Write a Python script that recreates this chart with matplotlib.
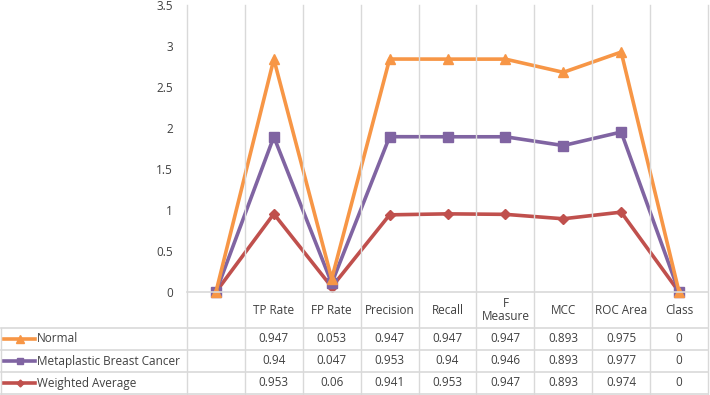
import numpy as np
import matplotlib.pyplot as plt
from matplotlib.lines import Line2D

plt.rcParams['font.family'] = ['Open Sans', 'DejaVu Sans']

# data (the chart stacks the three series)
categories = ['', 'TP Rate', 'FP Rate', 'Precision', 'Recall', 'F\nMeasure', 'MCC', 'ROC Area', 'Class']
series_names = ['Normal', 'Metaplastic Breast Cancer', 'Weighted Average']
normal = [0, 0.947, 0.053, 0.947, 0.947, 0.947, 0.893, 0.975, 0]
metaplastic = [0, 0.94, 0.047, 0.953, 0.94, 0.946, 0.893, 0.977, 0]
weighted = [0, 0.953, 0.06, 0.941, 0.953, 0.947, 0.893, 0.974, 0]
table_text = [
    ['', '0.947', '0.053', '0.947', '0.947', '0.947', '0.893', '0.975', '0'],
    ['', '0.94', '0.047', '0.953', '0.94', '0.946', '0.893', '0.977', '0'],
    ['', '0.953', '0.06', '0.941', '0.953', '0.947', '0.893', '0.974', '0'],
]

colors = ['#F79646', '#8064A2', '#C0504D']
markers = ['^', 's', 'D']
msizes = [7, 6.5, 5]
txt_col = '#404040'
grid_col = '#D9D9D9'
fs = 8.5

W, H = 710, 395
fig = plt.figure(figsize=(W / 100, H / 100), dpi=100)
ax_l, ax_r, ax_t, ax_b = 187, 708, 5, 292
ax = fig.add_axes([ax_l / W, 1 - ax_b / H, (ax_r - ax_l) / W, (ax_b - ax_t) / H])

x = np.arange(len(categories))
w_arr = np.array(weighted)
m_arr = w_arr + np.array(metaplastic)
n_arr = m_arr + np.array(normal)
stacks = [n_arr, m_arr, w_arr]

for i in [2, 1, 0]:
    ax.plot(x, stacks[i], color=colors[i], lw=2.6, marker=markers[i],
            markersize=msizes[i], zorder=3 + (2 - i), clip_on=False)

ax.set_xlim(-0.5, len(categories) - 0.5)
ax.set_ylim(0, 3.5)
ax.set_yticks(np.arange(0, 3.51, 0.5))
ax.set_yticklabels(['0', '0.5', '1', '1.5', '2', '2.5', '3', '3.5'])
ax.tick_params(axis='y', length=0, pad=10, labelsize=fs, labelcolor=txt_col)
ax.set_xticks([])
for s in ax.spines.values():
    s.set_visible(False)


def fx(px):
    return px / W


def fy(py):
    return 1 - py / H


# vertical grid lines through plot and table
bounds = ax_l + (ax_r - ax_l) * np.arange(len(categories) + 1) / len(categories)
for bx in bounds:
    fig.add_artist(Line2D([fx(bx), fx(bx)], [fy(ax_t), fy(394)], color=grid_col, lw=1))
fig.add_artist(Line2D([fx(1), fx(1)], [fy(328), fy(394)], color=grid_col, lw=1))

# horizontal lines
fig.add_artist(Line2D([fx(ax_l), fx(ax_r)], [fy(ax_b), fy(ax_b)], color=grid_col, lw=1.2))
for ry in [328, 350, 372, 394]:
    fig.add_artist(Line2D([fx(1), fx(ax_r)], [fy(ry), fy(ry)], color=grid_col, lw=1.2))

# header labels
centers = (bounds[:-1] + bounds[1:]) / 2
for cx, lab in zip(centers, categories):
    fig.text(fx(cx), fy(310), lab, ha='center', va='center', fontsize=fs,
             color=txt_col, linespacing=1.0)

# data rows with legend keys
row_y = [339, 361, 383]
for r in range(3):
    ry = row_y[r]
    fig.add_artist(Line2D([fx(4), fx(35)], [fy(ry), fy(ry)], color=colors[r], lw=2.6))
    fig.add_artist(Line2D([fx(20)], [fy(ry)], color=colors[r], lw=0,
                          marker=markers[r], markersize=msizes[r] - 1.5))
    fig.text(fx(37), fy(ry), series_names[r], ha='left', va='center', fontsize=fs, color=txt_col)
    for cx, val in zip(centers, table_text[r]):
        fig.text(fx(cx), fy(ry), val, ha='center', va='center', fontsize=fs, color=txt_col)

fig.savefig('out.png', dpi=100)
